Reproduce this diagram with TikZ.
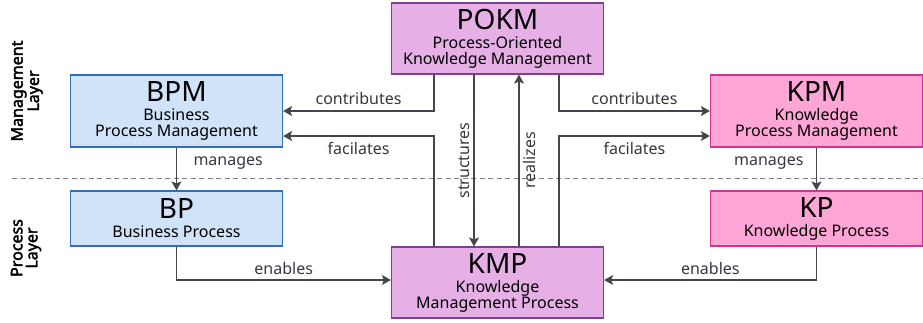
\documentclass[tikz,border=0pt]{standalone}
\usepackage{fontspec}
\setmainfont{Noto Sans}[AutoFakeBold = 2.5]
\usetikzlibrary{arrows.meta}
\definecolor{bpmfill}{HTML}{D1E3F8}
\definecolor{bpmline}{HTML}{2F6EBF}
\definecolor{pokmfill}{HTML}{E6B0E6}
\definecolor{pokmline}{HTML}{7D3F8F}
\definecolor{kpmfill}{HTML}{FFA6D6}
\definecolor{kpmline}{HTML}{D43392}
\definecolor{flowgray}{HTML}{45454F}
\tikzset{
	box/.style = {draw, line width = 1.2pt, minimum width = 212pt, inner sep = 0pt, align = center, text = black, font = \fontsize{16}{16}\selectfont},
	bpmbox/.style = {box, fill = bpmfill, draw = bpmline},
	pokmbox/.style = {box, fill = pokmfill, draw = pokmline},
	kpmbox/.style = {box, fill = kpmfill, draw = kpmline},
	flow/.style = {draw = flowgray, line width = 1.4pt, -{Stealth[length = 9pt, width = 10pt, inset = 2pt]}},
	flowlabel/.style = {text = flowgray!80!black, font = \fontsize{16}{16}\selectfont},
	layer/.style = {rotate = 90, align = center, text = black, font = \bfseries\fontsize{16}{15}\selectfont}
}
\newcommand{\boxtitle}[1]{{\fontsize{28}{28}\selectfont #1}\\[3pt]}

\begin{document}
\begin{tikzpicture}[x = 1pt, y = -1pt]
	\useasboundingbox (0, 0) rectangle (923, 322);
	\draw[flowgray!70, line width = 0.8pt, dash pattern = on 5pt off 3.5pt] (12, 178) -- (923, 178);
	\node[layer] (mgmt) at (27, 91) {Management\\Layer};
	\node[layer] (proc) at (26, 248) {Process\\Layer};
	\node[bpmbox, minimum height = 72pt] (BPM) at (176.5, 111) {\boxtitle{BPM}Business\\Process Management};
	\node[bpmbox, minimum height = 55pt] (BP) at (176.5, 218.5) {\boxtitle{BP}Business Process};
	\node[pokmbox, minimum height = 71pt] (POKM) at (497.5, 38.5) {\boxtitle{POKM}Process-Oriented\\Knowledge Management};
	\node[pokmbox, minimum height = 71pt] (KMP) at (497.5, 282.5) {\boxtitle{KMP}Knowledge\\Management Process};
	\node[kpmbox, minimum height = 72pt] (KPM) at (816.5, 111) {\boxtitle{KPM}Knowledge\\Process Management};
	\node[kpmbox, minimum height = 55pt] (KP) at (816.5, 218.5) {\boxtitle{KP}Knowledge Process};
	\draw[flow] ([xshift = -63.5pt]POKM.south) |- (BPM.east) node[flowlabel, pos = 0.75, above = 2pt] {contributes};
	\draw[flow] ([xshift = -63.5pt]KMP.north) |- ([yshift = -25pt]BPM.east) node[flowlabel, pos = 0.75, below = 2pt] {facilates};
	\draw[flow] ([xshift = 61.5pt]POKM.south) |- (KPM.west) node[flowlabel, pos = 0.75, above = 2pt] {contributes};
	\draw[flow] ([xshift = 61.5pt]KMP.north) |- ([yshift = -25pt]KPM.west) node[flowlabel, pos = 0.75, below = 2pt] {facilates};
	\draw[flow] ([xshift = -23.5pt]POKM.south) -- ([xshift = -23.5pt]KMP.north) node[flowlabel, midway, rotate = 90, above] {structures};
	\draw[flow] ([xshift = 21.5pt]KMP.north) -- ([xshift = 21.5pt]POKM.south) node[flowlabel, midway, rotate = 90, below] {realizes};
	\draw[flow] (BPM.south) -- (BP.north) node[flowlabel, pos = 0.36, right = 13pt] {manages};
	\draw[flow] (KPM.south) -- (KP.north) node[flowlabel, pos = 0.36, left = 9pt] {manages};
	\draw[flow] (BP.south) |- ([yshift = 2.5pt]KMP.west) node[flowlabel, pos = 0.75, above = 1.5pt] {enables};
	\draw[flow] (KP.south) |- ([yshift = 2.5pt]KMP.east) node[flowlabel, pos = 0.75, above = 1.5pt] {enables};
\end{tikzpicture}
\end{document}
